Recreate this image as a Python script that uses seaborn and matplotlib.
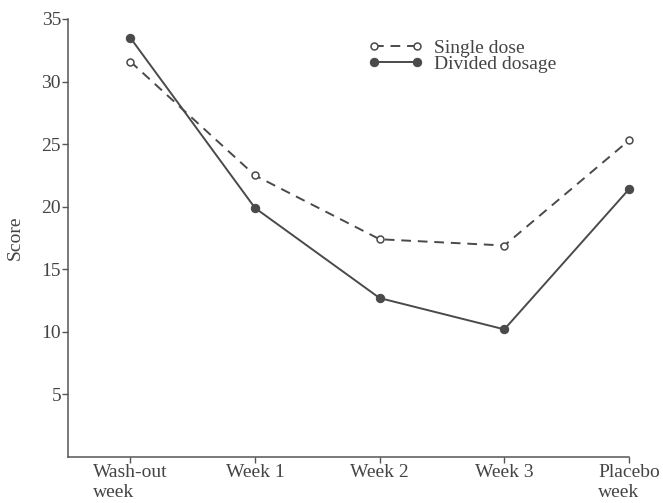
import numpy as np
import pandas as pd
import matplotlib
matplotlib.use("Agg")
import matplotlib.pyplot as plt
import seaborn as sns

categories = ["Wash-out\nweek", "Week 1", "Week 2", "Week 3", "Placebo\nweek"]
single_dose = [31.6, 22.5, 17.4, 16.9, 25.3]
divided_dosage = [33.5, 19.9, 12.7, 10.2, 21.4]
yticks = [5, 10, 15, 20, 25, 30, 35]

sns.set_theme(style="ticks")
plt.rcParams["font.family"] = ["Liberation Serif", "DejaVu Serif"]

W, H = 663, 503
fig = plt.figure(figsize=(W / 100, H / 100), dpi=100)
ax = fig.add_axes([68 / W, (H - 457) / H, (629 - 68) / W, (457 - 19) / H])

pos = np.arange(len(categories))
df = pd.DataFrame({"x": np.concatenate([pos, pos]),
                   "Score": single_dose + divided_dosage,
                   "series": ["Single dose"] * 5 + ["Divided dosage"] * 5})

col = "#4a4a4a"
fs = 14
sns.lineplot(data=df[df.series == "Single dose"], x="x", y="Score", ax=ax,
             color=col, linestyle=(0, (5, 3.5)), linewidth=1.4, marker="o",
             markersize=5, markerfacecolor="white", markeredgecolor=col,
             markeredgewidth=1.1, label="Single dose", clip_on=False)
sns.lineplot(data=df[df.series == "Divided dosage"], x="x", y="Score", ax=ax,
             color=col, linestyle="-", linewidth=1.4, marker="o",
             markersize=6, markerfacecolor=col, markeredgecolor=col,
             label="Divided dosage", clip_on=False)

ax.set_xlim(-0.5, 4)
ax.set_ylim(0, 35)
ax.set_xticks(pos)
ax.set_xticklabels(categories, fontsize=fs, color="#444444", multialignment="left")
ax.set_yticks(yticks)
ax.set_yticklabels([str(v) for v in yticks], fontsize=fs, color="#444444")
ax.set_xlabel("")
ax.set_ylabel("Score", fontsize=fs, color="#444444", labelpad=13)
for s in ["top", "right"]:
    ax.spines[s].set_visible(False)
for s in ["left", "bottom"]:
    ax.spines[s].set_color("#555555")
    ax.spines[s].set_linewidth(1.1)
ax.tick_params(axis="both", direction="out", length=4, width=1, color="#555555", pad=1)

leg = ax.legend(loc="upper left", bbox_to_anchor=(368 / W, 1 - 39 / H),
                bbox_transform=fig.transFigure, frameon=False, numpoints=2,
                handlelength=2.8, handletextpad=0.6, labelspacing=-0.05,
                borderpad=0, borderaxespad=0, fontsize=fs)
for t in leg.get_texts():
    t.set_color("#444444")

fig.savefig("out.png", dpi=100, facecolor="white")
